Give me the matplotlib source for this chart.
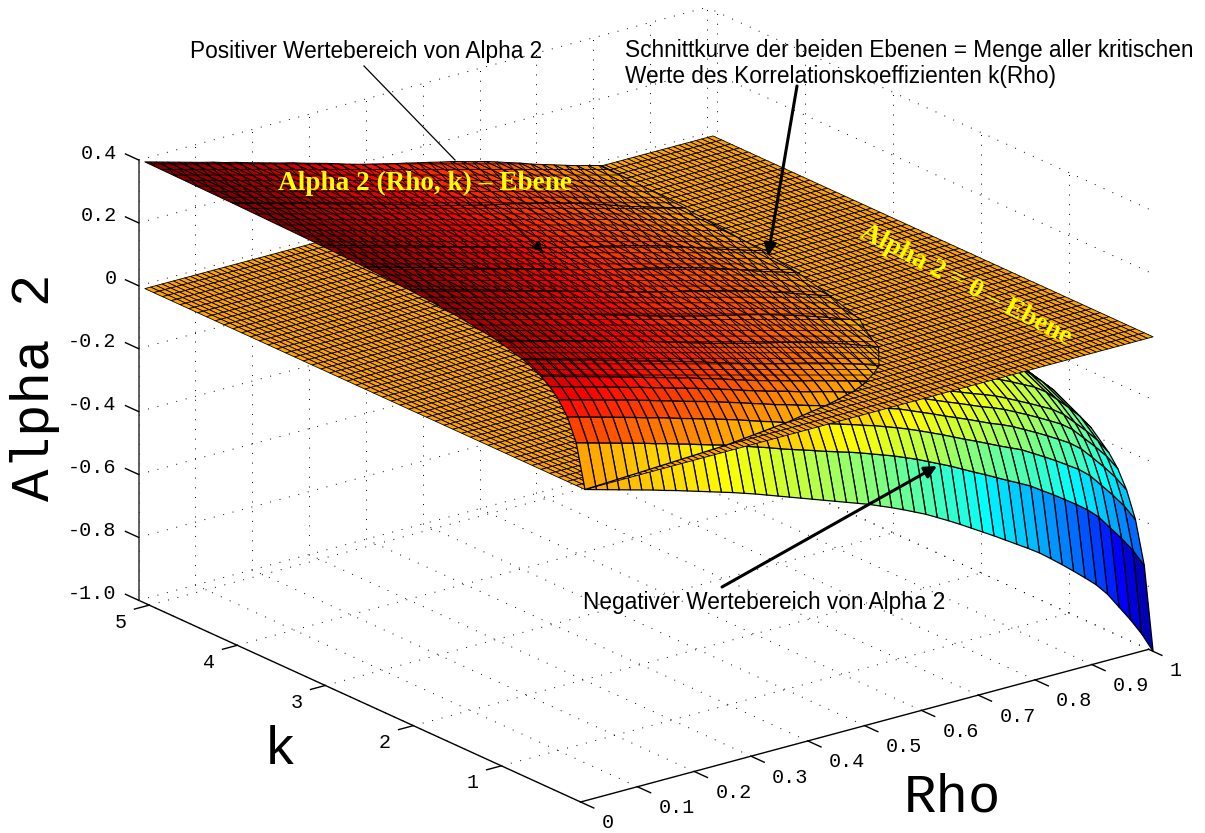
import numpy as np
import matplotlib
matplotlib.use("Agg")
import matplotlib.pyplot as plt
from matplotlib.colors import LinearSegmentedColormap, Normalize
from mpl_toolkits.mplot3d import proj3d
from mpl_toolkits.mplot3d.art3d import Poly3DCollection

plt.rcParams["hatch.linewidth"] = 0.6

# values
rho_vals = [0.00, 0.02, 0.04, 0.06, 0.08, 0.10, 0.12, 0.14, 0.16, 0.18,
            0.20, 0.22, 0.24, 0.26, 0.28, 0.30, 0.32, 0.34, 0.36, 0.38,
            0.40, 0.42, 0.44, 0.46, 0.48, 0.50, 0.52, 0.54, 0.56, 0.58,
            0.60, 0.62, 0.64, 0.66, 0.68, 0.70, 0.72, 0.74, 0.76, 0.78,
            0.80, 0.82, 0.84, 0.86, 0.88, 0.90, 0.92, 0.94, 0.96, 0.98, 1.00]
k_vals = [0.0, 0.1, 0.2, 0.3, 0.4, 0.5, 0.7, 1.0, 1.5, 2.0, 2.5, 3.0, 4.0, 5.0]

alpha2_k00 = [0.000, -0.010, -0.020, -0.030, -0.040, -0.050, -0.060, -0.071, -0.081, -0.092,
              -0.103, -0.114, -0.125, -0.136, -0.148, -0.160, -0.173, -0.186, -0.199, -0.212,
              -0.225, -0.238, -0.251, -0.264, -0.277, -0.290, -0.305, -0.320, -0.336, -0.353,
              -0.370, -0.390, -0.410, -0.431, -0.453, -0.475, -0.497, -0.520, -0.543, -0.566,
              -0.590, -0.618, -0.647, -0.677, -0.708, -0.740, -0.780, -0.830, -0.880, -0.935, -1.000]
alpha2_k01 = [0.136, 0.126, 0.116, 0.106, 0.096, 0.086, 0.076, 0.065, 0.055, 0.044,
              0.034, 0.023, 0.012, 0.002, -0.010, -0.021, -0.033, -0.045, -0.058, -0.070,
              -0.081, -0.093, -0.105, -0.116, -0.127, -0.139, -0.152, -0.165, -0.178, -0.193,
              -0.208, -0.225, -0.242, -0.259, -0.278, -0.297, -0.315, -0.334, -0.353, -0.371,
              -0.390, -0.414, -0.437, -0.462, -0.487, -0.514, -0.547, -0.591, -0.634, -0.682, -0.740]
alpha2_k02 = [0.205, 0.195, 0.185, 0.175, 0.165, 0.155, 0.145, 0.134, 0.125, 0.114,
              0.103, 0.093, 0.082, 0.072, 0.061, 0.050, 0.038, 0.026, 0.015, 0.003,
              -0.008, -0.019, -0.030, -0.040, -0.051, -0.062, -0.074, -0.085, -0.098, -0.111,
              -0.125, -0.140, -0.156, -0.172, -0.189, -0.206, -0.222, -0.239, -0.256, -0.272,
              -0.288, -0.309, -0.330, -0.352, -0.375, -0.398, -0.428, -0.468, -0.509, -0.553, -0.607]
alpha2_k03 = [0.247, 0.237, 0.227, 0.217, 0.207, 0.197, 0.188, 0.177, 0.167, 0.156,
              0.146, 0.135, 0.125, 0.115, 0.104, 0.093, 0.082, 0.070, 0.059, 0.047,
              0.037, 0.026, 0.015, 0.005, -0.005, -0.015, -0.026, -0.037, -0.049, -0.062,
              -0.074, -0.089, -0.104, -0.119, -0.135, -0.150, -0.165, -0.181, -0.197, -0.211,
              -0.227, -0.246, -0.265, -0.285, -0.306, -0.328, -0.356, -0.394, -0.433, -0.475, -0.526]
alpha2_k04 = [0.276, 0.266, 0.256, 0.246, 0.236, 0.226, 0.216, 0.205, 0.196, 0.185,
              0.175, 0.164, 0.154, 0.144, 0.133, 0.122, 0.111, 0.099, 0.088, 0.077,
              0.067, 0.057, 0.046, 0.036, 0.027, 0.017, 0.006, -0.004, -0.016, -0.028,
              -0.040, -0.054, -0.068, -0.083, -0.098, -0.113, -0.127, -0.142, -0.157, -0.170,
              -0.185, -0.203, -0.221, -0.240, -0.260, -0.280, -0.307, -0.344, -0.381, -0.421, -0.471]
alpha2_k05 = [0.296, 0.286, 0.276, 0.266, 0.256, 0.246, 0.236, 0.225, 0.216, 0.205,
              0.195, 0.185, 0.174, 0.165, 0.153, 0.143, 0.132, 0.120, 0.109, 0.098,
              0.088, 0.078, 0.068, 0.058, 0.049, 0.039, 0.029, 0.019, 0.008, -0.005,
              -0.016, -0.030, -0.043, -0.057, -0.072, -0.086, -0.100, -0.114, -0.128, -0.141,
              -0.155, -0.172, -0.190, -0.208, -0.227, -0.246, -0.272, -0.308, -0.344, -0.384, -0.433]
alpha2_k07 = [0.323, 0.313, 0.303, 0.293, 0.283, 0.273, 0.264, 0.253, 0.244, 0.233,
              0.222, 0.212, 0.202, 0.192, 0.181, 0.171, 0.160, 0.149, 0.138, 0.127,
              0.117, 0.107, 0.097, 0.088, 0.079, 0.070, 0.060, 0.050, 0.039, 0.028,
              0.017, 0.004, -0.009, -0.023, -0.037, -0.050, -0.063, -0.077, -0.090, -0.102,
              -0.115, -0.131, -0.148, -0.165, -0.183, -0.201, -0.226, -0.260, -0.295, -0.333, -0.380]
alpha2_k10 = [0.347, 0.337, 0.327, 0.317, 0.307, 0.297, 0.288, 0.277, 0.268, 0.257,
              0.246, 0.236, 0.226, 0.217, 0.206, 0.195, 0.185, 0.173, 0.163, 0.152,
              0.143, 0.133, 0.123, 0.114, 0.105, 0.097, 0.087, 0.077, 0.067, 0.056,
              0.045, 0.033, 0.020, 0.008, -0.006, -0.019, -0.031, -0.044, -0.056, -0.068,
              -0.080, -0.095, -0.111, -0.127, -0.144, -0.161, -0.184, -0.218, -0.251, -0.288, -0.334]
alpha2_k15 = [0.368, 0.358, 0.348, 0.338, 0.328, 0.318, 0.309, 0.298, 0.289, 0.278,
              0.268, 0.258, 0.248, 0.238, 0.227, 0.217, 0.207, 0.195, 0.185, 0.175,
              0.165, 0.156, 0.146, 0.138, 0.129, 0.120, 0.111, 0.102, 0.092, 0.081,
              0.071, 0.059, 0.047, 0.035, 0.021, 0.009, -0.002, -0.015, -0.026, -0.037,
              -0.048, -0.063, -0.078, -0.093, -0.109, -0.125, -0.148, -0.180, -0.213, -0.248, -0.293]
alpha2_k20 = [0.380, 0.370, 0.360, 0.350, 0.340, 0.330, 0.321, 0.310, 0.301, 0.290,
              0.280, 0.270, 0.260, 0.250, 0.239, 0.229, 0.219, 0.208, 0.197, 0.187,
              0.178, 0.168, 0.159, 0.150, 0.142, 0.134, 0.124, 0.115, 0.106, 0.095,
              0.085, 0.073, 0.062, 0.050, 0.037, 0.025, 0.013, 0.001, -0.010, -0.020,
              -0.031, -0.045, -0.060, -0.074, -0.090, -0.106, -0.128, -0.159, -0.191, -0.226, -0.271]
alpha2_k25 = [0.388, 0.378, 0.368, 0.358, 0.348, 0.338, 0.329, 0.318, 0.309, 0.298,
              0.287, 0.277, 0.267, 0.258, 0.247, 0.237, 0.227, 0.216, 0.205, 0.195,
              0.186, 0.176, 0.167, 0.159, 0.150, 0.142, 0.132, 0.124, 0.114, 0.104,
              0.094, 0.083, 0.071, 0.059, 0.046, 0.034, 0.023, 0.012, 0.001, -0.009,
              -0.020, -0.034, -0.048, -0.062, -0.078, -0.093, -0.115, -0.146, -0.178, -0.212, -0.256]
alpha2_k30 = [0.393, 0.383, 0.373, 0.363, 0.353, 0.343, 0.334, 0.323, 0.314, 0.303,
              0.293, 0.282, 0.272, 0.263, 0.252, 0.242, 0.232, 0.221, 0.211, 0.200,
              0.191, 0.182, 0.173, 0.164, 0.156, 0.148, 0.138, 0.130, 0.120, 0.110,
              0.100, 0.089, 0.077, 0.065, 0.053, 0.041, 0.030, 0.019, 0.008, -0.002,
              -0.012, -0.026, -0.040, -0.054, -0.069, -0.085, -0.106, -0.137, -0.168, -0.203, -0.246]
alpha2_k40 = [0.399, 0.389, 0.379, 0.369, 0.359, 0.349, 0.340, 0.329, 0.320, 0.309,
              0.299, 0.289, 0.279, 0.270, 0.259, 0.249, 0.238, 0.227, 0.217, 0.207,
              0.198, 0.189, 0.179, 0.171, 0.163, 0.155, 0.145, 0.137, 0.128, 0.117,
              0.108, 0.096, 0.085, 0.073, 0.061, 0.049, 0.039, 0.027, 0.017, 0.007,
              -0.003, -0.017, -0.030, -0.044, -0.059, -0.074, -0.095, -0.126, -0.157, -0.191, -0.234]
alpha2_k50 = [0.403, 0.393, 0.383, 0.373, 0.363, 0.353, 0.344, 0.333, 0.324, 0.313,
              0.303, 0.293, 0.283, 0.274, 0.263, 0.253, 0.243, 0.232, 0.221, 0.211,
              0.202, 0.193, 0.184, 0.176, 0.167, 0.159, 0.150, 0.142, 0.132, 0.122,
              0.113, 0.102, 0.090, 0.079, 0.066, 0.055, 0.044, 0.033, 0.022, 0.013,
              0.003, -0.010, -0.024, -0.038, -0.052, -0.067, -0.088, -0.119, -0.149, -0.183, -0.226]

rho_ticks = [0, 0.1, 0.2, 0.3, 0.4, 0.5, 0.6, 0.7, 0.8, 0.9, 1]
rho_ticklabels = ["0", "0.1", "0.2", "0.3", "0.4", "0.5", "0.6", "0.7", "0.8", "0.9", "1"]
k_ticks = [1, 2, 3, 4, 5]
z_ticks = [-1.0, -0.8, -0.6, -0.4, -0.2, 0, 0.2, 0.4]
z_ticklabels = ["-1.0", "-0.8", "-0.6", "-0.4", "-0.2", "0", "0.2", "0.4"]

Z = np.array([alpha2_k00, alpha2_k01, alpha2_k02, alpha2_k03, alpha2_k04, alpha2_k05, alpha2_k07,
              alpha2_k10, alpha2_k15, alpha2_k20, alpha2_k25, alpha2_k30, alpha2_k40, alpha2_k50])
rho = np.array(rho_vals)
k = np.array(k_vals)

# matlab jet
matjet = LinearSegmentedColormap.from_list("matjet", [
    (0.0, (0, 0, 0.5625)), (0.125, (0, 0, 1)), (0.375, (0, 1, 1)),
    (0.625, (1, 1, 0)), (0.875, (1, 0, 0)), (1.0, (0.5, 0, 0))])
norm = Normalize(-1.0, 0.4)

MONO = "Liberation Mono"
SANS = "Liberation Sans"
SERIF = "Liberation Serif"

kmin, kmax = 0.05, 5.07
BOX = (719, 726, 472)


def clip_quad(pts, above):
    # cut a cell at z=0 so the plane can be painted between both parts
    out = []
    for a, b in zip(pts, pts[1:] + pts[:1]):
        ina = a[2] >= 0 if above else a[2] <= 0
        inb = b[2] >= 0 if above else b[2] <= 0
        if ina:
            out.append(a)
        if ina != inb:
            t = a[2] / (a[2] - b[2])
            out.append((a[0] + t * (b[0] - a[0]), a[1] + t * (b[1] - a[1]), 0.0))
    return out


lower, lower_c, upper, upper_c, far, far_c = [], [], [], [], [], []
for j in range(len(k) - 1):
    for i in range(len(rho) - 1):
        quad = [(rho[i], k[j], Z[j, i]), (rho[i + 1], k[j], Z[j, i + 1]),
                (rho[i + 1], k[j + 1], Z[j + 1, i + 1]), (rho[i], k[j + 1], Z[j + 1, i])]
        col = matjet(norm(Z[j, i]))
        part = clip_quad(quad, False)
        if len(part) > 2:
            lower.append(part)
            lower_c.append(col)
        part = clip_quad(quad, True)
        if len(part) > 2:
            if k[j] >= 0.5:
                far.append(part)
                far_c.append(col)
            else:
                upper.append(part)
                upper_c.append(col)

plane = []
rp = np.linspace(0, 1, 101)
kp = np.linspace(0, 5, 51)
for j in range(len(kp) - 1):
    for i in range(len(rp) - 1):
        plane.append([(rp[i], kp[j], 0), (rp[i + 1], kp[j], 0), (rp[i + 1], kp[j + 1], 0), (rp[i], kp[j + 1], 0)])

fig = plt.figure(figsize=(12.05, 8.33), dpi=100)
# axes box larger than the figure, the square 3d box would clip the wide surface otherwise
pos = [0.0, -0.25, 1.0, 1.5]
ax = fig.add_axes(pos, projection="3d", computed_zorder=False)
ax.set_proj_type("ortho")
ax.view_init(elev=20.5, azim=-127.5)
ax.set_xlim(0, 1)
ax.set_ylim(0, 5)
ax.set_zlim(-1, 0.4)
ax.set_axis_off()
ax.patch.set_alpha(0)

# dotted box grid
grid = dict(color="black", linewidth=0.7, linestyle=(0, (1, 9)), zorder=1)
for z in z_ticks:
    ax.plot([1, 1], [kmin, kmax], [z, z], **grid)
    ax.plot([0, 1], [kmax, kmax], [z, z], **grid)
for r in rho_ticks:
    ax.plot([r, r], [kmin, kmax], [-1, -1], **grid)
    ax.plot([r, r], [kmax, kmax], [-1, 0.4], **grid)
for kk in k_ticks:
    ax.plot([0, 1], [kk - 0.05, kk - 0.05], [-1, -1], **grid)
    ax.plot([1, 1], [kk - 0.05, kk - 0.05], [-1, 0.4], **grid)

# surface below plane, plane, surface above plane
coll1 = Poly3DCollection(lower, facecolors=lower_c, edgecolors="black", linewidths=0.9, zorder=3)
coll2 = Poly3DCollection(plane, facecolors=matjet(norm(0.0)), edgecolors="black", linewidths=0.6, zorder=4)
coll3 = Poly3DCollection(far, facecolors=far_c, edgecolors="black", linewidths=0.7, hatch="\\\\\\---", zorder=5)
coll4 = Poly3DCollection(upper, facecolors=upper_c, edgecolors="black", linewidths=0.9, zorder=6)
for c in (coll1, coll2, coll3, coll4):
    ax.add_collection3d(c, autolim=False)

# axis lines and ticks
axl = dict(color="black", linewidth=1.0, zorder=2)
ax.plot([0, 1], [kmin, kmin], [-1, -1], **axl)
ax.plot([0, 0], [kmin, kmax], [-1, -1], **axl)
ax.plot([0, 0], [kmax, kmax], [-1, 0.4], color="#444444", linewidth=1.2, zorder=2)
for r, lab in zip(rho_ticks, rho_ticklabels):
    ax.plot([r, r], [kmin, kmin - 0.15], [-1, -1], **axl)
    ax.text(r, kmin - 0.24, -1.036, lab, family=MONO, fontsize=14.5, ha="left", va="center", zorder=8)
for kk in k_ticks:
    ax.plot([0, -0.026], [kk - 0.05, kk - 0.05], [-1, -1], **axl)
    ax.text(-0.05, kk - 0.05, -1.03, str(kk), family=MONO, fontsize=14.5, ha="center", va="center", zorder=8)
for z, lab in zip(z_ticks, z_ticklabels):
    ax.plot([0, 0], [kmax, kmax + 0.15], [z, z], **axl)
    ax.text(0, kmax + 0.25, z - 0.01, lab, family=MONO, fontsize=14.5, ha="right", va="center", zorder=8)


def to_px(x, y, z):
    xs, ys, _ = proj3d.proj_transform(x, y, z, ax.get_proj())
    return ax.transData.transform((xs, ys))


# fit the box onto the reference corners
zoom = 1.0
ax.set_box_aspect(BOX, zoom=zoom)
for _ in range(3):
    fig.canvas.draw()
    p0 = to_px(0, 0, -1)
    p1 = to_px(1, 0, -1)
    zoom *= np.hypot(568, 153) / np.hypot(*(p1 - p0))
    ax.set_box_aspect(BOX, zoom=zoom)
    fig.canvas.draw()
    p0 = to_px(0, 0, -1)
    pos[0] += (585 - p0[0]) / 1205
    pos[1] += ((833 - 804) - p0[1]) / 833
    ax.set_position(pos)

# texts and arrows in picture pixels
ov = fig.add_axes([0, 0, 1, 1], zorder=10)
ov.set_xlim(0, 1205)
ov.set_ylim(833, 0)
ov.axis("off")

ov.text(190, 51, "Positiver Wertebereich von Alpha 2", family=SANS, fontsize=16.3, va="center")
ov.text(625, 50, "Schnittkurve der beiden Ebenen = Menge aller kritischen", family=SANS, fontsize=16.3, va="center")
ov.text(625, 76, "Werte des Korrelationskoeffizienten k(Rho)", family=SANS, fontsize=16.3, va="center")
ov.text(583, 602, "Negativer Wertebereich von Alpha 2", family=SANS, fontsize=16.3, va="center")

ov.text(425, 183, "Alpha 2 (Rho, k) – Ebene", family=SERIF, weight="bold", color="yellow",
        fontsize=19.6, ha="center", va="center")
ov.text(966, 285, "Alpha 2 = 0 – Ebene", family=SERIF, weight="bold", color="yellow",
        fontsize=19.6, ha="center", va="center", rotation=-27.5, rotation_mode="anchor")

ov.text(35, 387, "Alpha 2", family=MONO, fontsize=39, rotation=90, ha="center", va="center")
ov.text(952, 797, "Rho", family=MONO, fontsize=39, ha="center", va="center")
ov.text(280, 750, "k", family=MONO, fontsize=39, ha="center", va="center")

ov.plot([364, 455], [66, 160], color="black", linewidth=0.9)
arrow = dict(arrowstyle="-|>", color="black", linewidth=2.2, mutation_scale=18, shrinkA=0, shrinkB=0)
ov.annotate("", xy=(768, 256), xytext=(797, 86), arrowprops=arrow)
ov.annotate("", xy=(937, 466), xytext=(722, 587), arrowprops=arrow)
ov.annotate("", xy=(543, 252), xytext=(505, 215), arrowprops=dict(arrow, linewidth=0.5))

fig.savefig("out.png", dpi=100)
